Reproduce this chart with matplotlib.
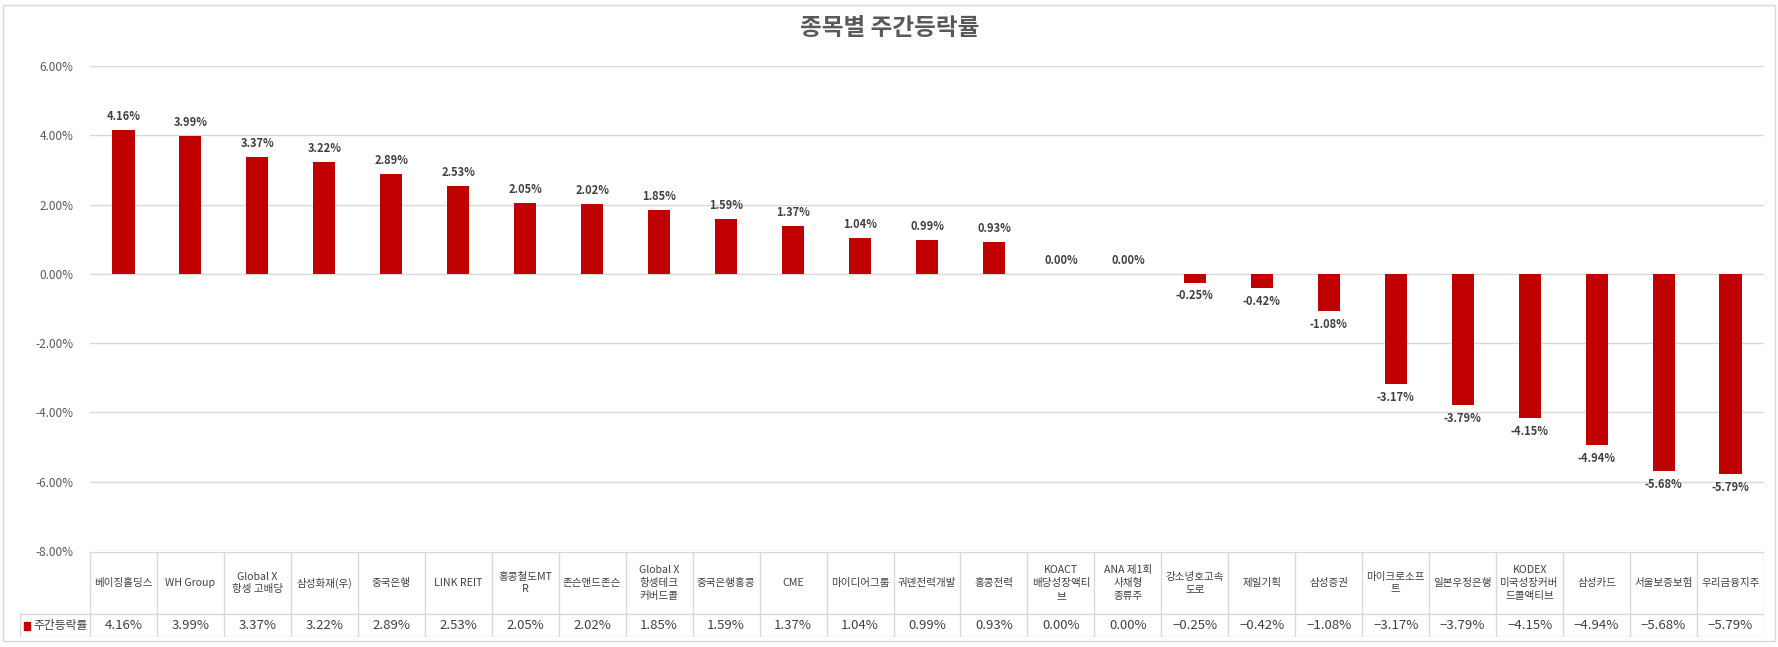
import numpy as np
import matplotlib
matplotlib.use('Agg')
import matplotlib.pyplot as plt
from matplotlib.patches import Rectangle

plt.rcParams['font.family'] = ['Noto Sans CJK KR', 'DejaVu Sans']

# 종목명 (표 안에서 줄바꿈 포함)
names = ['베이징홀딩스', 'WH Group', 'Global X\n항셍 고배당', '삼성화재(우)', '중국은행',
         'LINK REIT', '홍콩철도MT\nR', '존슨앤드존슨', 'Global X\n항셍테크\n커버드콜',
         '중국은행홍콩', 'CME', '마이디어그룹', '궈뎬전력개발', '홍콩전력',
         'KOACT\n배당성장액티\n브', 'ANA 제1회\n사채형\n종류주', '강소녕호고속\n도로',
         '제일기획', '삼성증권', '마이크로소프\n트', '일본우정은행',
         'KODEX\n미국성장커버\n드콜액티브', '삼성카드', '서울보증보험', '우리금융지주']
# 주간등락률 (%)
weekly = [4.16, 3.99, 3.37, 3.22, 2.89, 2.53, 2.05, 2.02, 1.85, 1.59, 1.37, 1.04,
          0.99, 0.93, 0.00, 0.00, -0.25, -0.42, -1.08, -3.17, -3.79, -4.15,
          -4.94, -5.68, -5.79]
series_name = '주간등락률'
yticks = [6, 4, 2, 0, -2, -4, -6, -8]
title = '종목별 주간등락률'

W, H = 1778, 647
fig = plt.figure(figsize=(W / 100, H / 100), dpi=100)

bar_col = '#c00000'
grid_col = '#d9d9d9'
txt_col = '#404040'

# 플롯 영역 (픽셀 기준)
left, right, top, bottom = 90, 1764, 66, 551
ax = fig.add_axes([left / W, 1 - bottom / H, (right - left) / W, (bottom - top) / H])
n = len(names)
x = np.arange(n)
ax.bar(x, weekly, width=0.33, color=bar_col, zorder=3)
ax.set_xlim(-0.5, n - 0.5)
ax.set_ylim(-8, 6)
ax.set_yticks(yticks)
ax.set_yticklabels(['{:.2f}%'.format(v) for v in yticks], fontsize=8.5, color='#595959')
ax.set_xticks([])
ax.tick_params(axis='y', length=0, pad=12)
ax.grid(axis='y', color=grid_col, linewidth=1, zorder=0)
for s in ax.spines.values():
    s.set_visible(False)

for i, v in enumerate(weekly):
    if v >= 0:
        ax.annotate('{:.2f}%'.format(v), (i, v), xytext=(0, 5), textcoords='offset points',
                    ha='center', va='bottom', fontsize=8, fontweight='bold', color=txt_col)
    else:
        ax.annotate('{:.2f}%'.format(v), (i, v), xytext=(0, -5), textcoords='offset points',
                    ha='center', va='top', fontsize=8, fontweight='bold', color=txt_col)

# 데이터 표
tl, tt, tm, tb = 20, 552, 614, 637
cw = (right - left) / n
tab = fig.add_axes([tl / W, 1 - tb / H, (right - tl) / W, (tb - tt) / H])
x0 = -0.5 - (left - tl) / cw
tab.set_xlim(x0, n - 0.5)
tab.set_ylim(0, tb - tt)
tab.axis('off')
hrow = tb - tm
lw = 1
# 가로선
tab.plot([-0.5, n - 0.5], [tb - tt, tb - tt], color=grid_col, lw=lw)
tab.plot([x0, n - 0.5], [hrow, hrow], color=grid_col, lw=lw)
tab.plot([x0, n - 0.5], [0, 0], color=grid_col, lw=lw)
# 세로선
for k in range(n + 1):
    tab.plot([k - 0.5, k - 0.5], [0, tb - tt], color=grid_col, lw=lw)
tab.plot([x0, x0], [0, hrow], color=grid_col, lw=lw)

for i, (nm, v) in enumerate(zip(names, weekly)):
    tab.text(i, hrow + (tb - tt - hrow) / 2, nm, ha='center', va='center',
             fontsize=7.6, color=txt_col, linespacing=1.35)
    tab.text(i, hrow / 2, '{:.2f}%'.format(v).replace('-', '\u2212'), ha='center',
             va='center', fontsize=9.5, color=txt_col)
tab.add_patch(Rectangle((x0 + 0.06, hrow / 2 - 4), 0.09, 8, color=bar_col, clip_on=False))
tab.text(x0 + 0.2, hrow / 2, series_name, ha='left', va='center', fontsize=8.5, color=txt_col)

# 제목
fig.text(890 / W, 1 - 28 / H, title, ha='center', va='center', fontsize=17,
         fontweight='bold', color='#595959')

# 차트 테두리
fig.patches.append(Rectangle((3 / W, 1 - 641 / H), (1775 - 3) / W, (641 - 5) / H,
                             transform=fig.transFigure, fill=False, edgecolor=grid_col, lw=1))

fig.savefig('out.png', dpi=100)
